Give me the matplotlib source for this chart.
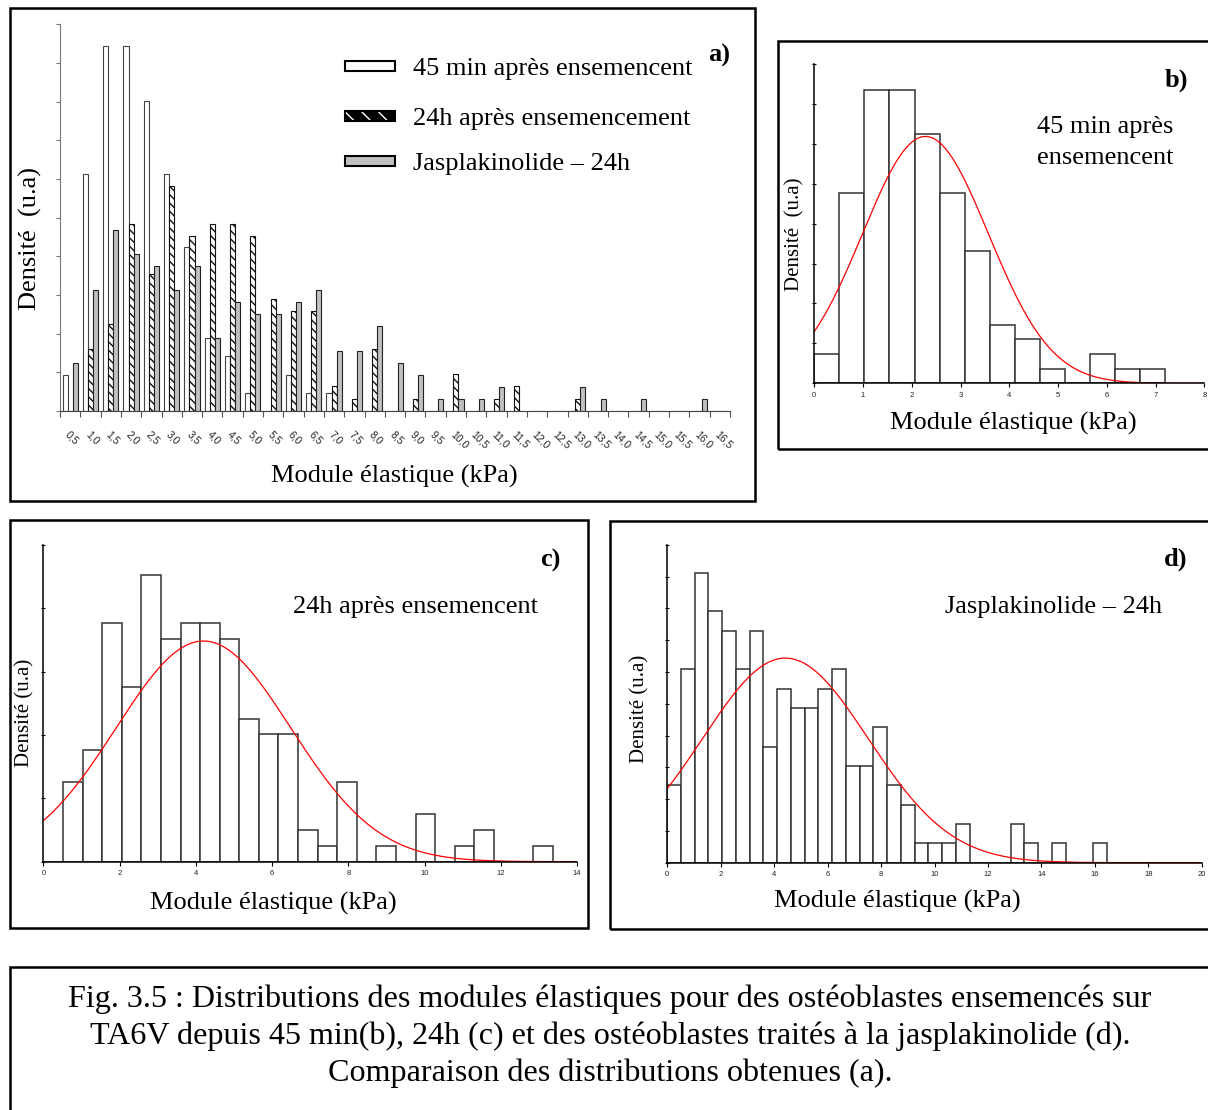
import numpy as np
import matplotlib
matplotlib.use("Agg")
import matplotlib.pyplot as plt
from matplotlib.patches import Rectangle

W, H = 1208, 1110
SERIF = ["Liberation Serif", "DejaVu Serif"]
SANS = ["Liberation Sans", "DejaVu Sans"]

# ---------------- data ----------------
bin_width = 0.514  # kPa
category_labels = ["0,5", "1,0", "1,5", "2,0", "2,5", "3,0", "3,5", "4,0", "4,5", "5,0",
                   "5,5", "6,0", "6,5", "7,0", "7,5", "8,0", "8,5", "9,0", "9,5", "10,0",
                   "10,5", "11,0", "11,5", "12,0", "12,5", "13,0", "13,5", "14,0", "14,5",
                   "15,0", "15,5", "16,0", "16,5"]
counts_45min = [2, 13, 20, 20, 17, 13, 9, 4, 3, 1, 0, 2, 1, 1]
counts_24h = [0, 5, 7, 15, 11, 18, 14, 15, 15, 14, 9, 8, 8, 2, 1, 5, 0, 1, 0, 3, 0, 1, 2, 0, 0, 1]
counts_jasp = [4, 10, 15, 13, 12, 10, 12, 6, 9, 8, 8, 9, 10, 5, 5, 7, 4, 3, 1, 1, 1, 2, 0, 0, 0,
               2, 1, 0, 1, 0, 0, 1]
fit_45min = (2.28, 1.29)   # mean, sd of the red normal curve
fit_24h = (4.20, 2.29)
fit_jasp = (4.42, 3.10)
series_names = ["45 min après ensemencent", "24h après ensemencement", "Jasplakinolide – 24h"]

fig = plt.figure(figsize=(W / 100, H / 100), dpi=100)


def fbox(x0, y0, x1, y1):
    """pixel box (top-left origin) -> figure fraction [l, b, w, h]"""
    return [x0 / W, 1 - y1 / H, (x1 - x0) / W, (y1 - y0) / H]


def ftext(x, y, s, **kw):
    kw.setdefault("family", SERIF)
    kw.setdefault("ha", "center")
    kw.setdefault("va", "center")
    fig.text(x / W, 1 - (y + 3) / H, s, **kw)


def frame(x0, y0, x1, y1):
    fig.add_artist(Rectangle((x0 / W, 1 - y1 / H), (x1 - x0) / W, (y1 - y0) / H,
                             transform=fig.transFigure, fill=False, lw=1.8, ec="black"))


# ---------------- frames ----------------
frame(10, 8, 755, 501)
frame(778, 41, 1220, 449)
frame(10, 520, 588, 928)
frame(610, 521, 1220, 929)
frame(10, 967, 1220, 1130)

# ---------------- panel a ----------------
n_cat = len(category_labels)


def pad(c):
    return np.array(c + [0] * (n_cat - len(c)), dtype=float)


pct45 = pad(counts_45min) / sum(counts_45min) * 100
pct24 = pad(counts_24h) / sum(counts_24h) * 100
pctj = pad(counts_jasp) / sum(counts_jasp) * 100

axa = fig.add_axes(fbox(60, 24.3, 730, 411))
x = np.arange(n_cat)
bw = 0.25
axa.bar(x - bw, pct45, bw, color="white", edgecolor="#444", lw=0.8)
axa.bar(x, pct24, bw, color="white", edgecolor="#111", lw=0.8, hatch="\\\\\\\\")
axa.bar(x + bw, pctj, bw, color="#c0c0c0", edgecolor="#222", lw=0.8)
axa.set_xlim(-0.5, n_cat - 0.5)
axa.set_ylim(0, 20)
axa.set_yticks(np.arange(0, 21, 2))
axa.set_yticklabels([])
axa.set_xticks(x)
axa.set_xticklabels(category_labels, rotation=-45, ha="left", va="top",
                    rotation_mode="anchor", family=SANS, fontsize=7.5, color="#222")
axa.set_xticks(np.arange(-0.5, n_cat, 1), minor=True)
axa.tick_params(axis="x", which="major", length=0, pad=13)
axa.tick_params(axis="x", which="minor", length=4, color="#555", width=0.8)
axa.tick_params(axis="y", length=3, color="#777", width=0.8)
for s in ["top", "right"]:
    axa.spines[s].set_visible(False)
axa.spines["left"].set_color("#777")
axa.spines["bottom"].set_color("#444")
axa.patch.set_alpha(0)

# legend (manual)
leg_y = [66, 116, 161]
leg_styles = [dict(fc="white", ec="black", hatch=None),
              dict(fc="black", ec="white", hatch="\\\\"),
              dict(fc="#c0c0c0", ec="black", hatch=None)]
for yy, st, name in zip(leg_y, leg_styles, series_names):
    fig.add_artist(Rectangle((345 / W, 1 - (yy + 5) / H), 50 / W, 10 / H,
                             transform=fig.transFigure, lw=0, **st))
    fig.add_artist(Rectangle((345 / W, 1 - (yy + 5) / H), 50 / W, 10 / H,
                             transform=fig.transFigure, lw=1.5, fill=False, ec="black"))
    ftext(413, yy, name, ha="left", fontsize=19)
ftext(719, 52, "a)", fontsize=19, weight="bold")
ftext(30, 235, "Densité  (u.a)", fontsize=19, rotation=90)
ftext(394, 473, "Module élastique (kPa)", fontsize=19)


# ---------------- histograms b, c, d ----------------
def hist_panel(box, counts, fit, xmax, xstep, ymax, ystep):
    ax = fig.add_axes(fbox(*box))
    c = np.array(counts, dtype=float)
    n = c.sum()
    dens = c / (n * bin_width)
    edges = np.arange(len(c)) * bin_width
    ax.bar(edges, dens, bin_width, align="edge", color="white", edgecolor="#333", lw=1.1)
    xs = np.linspace(0, xmax, 400)
    mu, sd = fit
    ax.plot(xs, np.exp(-0.5 * ((xs - mu) / sd) ** 2) / (sd * np.sqrt(2 * np.pi)),
            color="red", lw=0.9)
    ax.set_xlim(0, xmax)
    ax.set_ylim(0, ymax)
    ax.set_xticks(np.arange(0, xmax + 0.01, xstep))
    ax.set_xticklabels([f"{v:g}" for v in np.arange(0, xmax + 0.01, xstep)],
                       family=SANS, fontsize=5.5, color="#222")
    ax.set_yticks(np.arange(0, ymax + 1e-9, ystep))
    ax.set_yticklabels([])
    ax.tick_params(axis="x", length=3, width=0.8, pad=3)
    ax.tick_params(axis="y", length=3, width=0.8, direction="inout")
    for s in ["top", "right"]:
        ax.spines[s].set_visible(False)
    ax.spines["left"].set_linewidth(1.1)
    ax.spines["bottom"].set_linewidth(1.1)
    ax.patch.set_alpha(0)
    return ax


hist_panel((814.3, 64, 1204.3, 383.3), counts_45min, fit_45min, 8, 1, 0.4, 0.05)
ftext(1176, 77, "b)", fontsize=19, weight="bold")
ftext(1037, 124, "45 min après", ha="left", fontsize=19)
ftext(1037, 155, "ensemencent", ha="left", fontsize=19)
ftext(795, 231, "Densité  (u.a)", fontsize=15, rotation=90)
ftext(1013, 420, "Module élastique (kPa)", fontsize=19)

hist_panel((43.4, 545, 577, 861.7), counts_24h, fit_24h, 14, 2, 0.25, 0.05)
ftext(550, 557, "c)", fontsize=19, weight="bold")
ftext(293, 604, "24h après ensemencent", ha="left", fontsize=19)
ftext(25, 710, "Densité (u.a)", fontsize=15, rotation=90)
ftext(273, 900, "Module élastique (kPa)", fontsize=19)

hist_panel((667.2, 544.7, 1201.9, 862.7), counts_jasp, fit_jasp, 20, 2, 0.2, 0.02)
ftext(1176, 556, "d)", fontsize=19, weight="bold")
ftext(945, 604, "Jasplakinolide – 24h", ha="left", fontsize=19)
ftext(640, 706, "Densité (u.a)", fontsize=15, rotation=90)
ftext(897, 898, "Module élastique (kPa)", fontsize=19)

# ---------------- caption ----------------
caption = ["Fig. 3.5 : Distributions des modules élastiques pour des ostéoblastes ensemencés sur",
           "TA6V depuis 45 min(b), 24h (c) et des ostéoblastes traités à la jasplakinolide (d).",
           "Comparaison des distributions obtenues (a)."]
for yy, line in zip([996, 1033, 1070], caption):
    ftext(610, yy, line, fontsize=23.1)

fig.savefig("out.png", dpi=100)
